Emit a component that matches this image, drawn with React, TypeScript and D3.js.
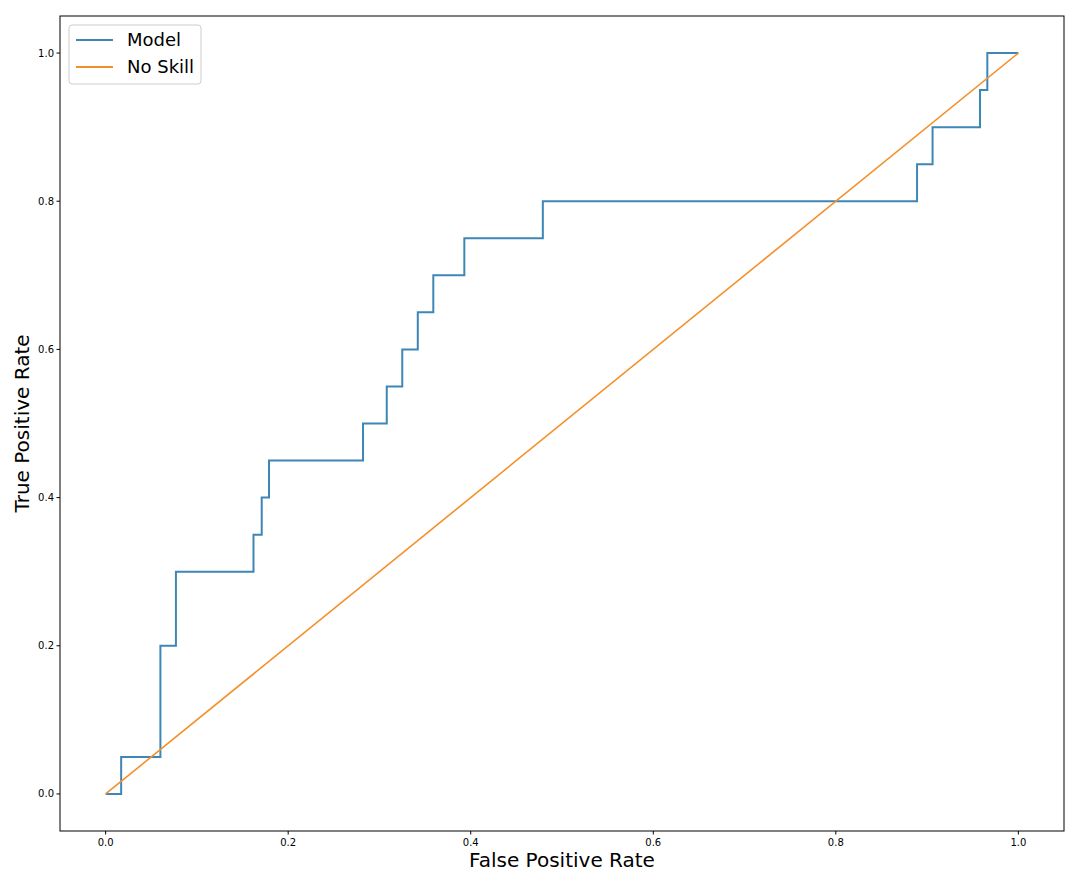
import React from "react";
import * as d3 from "d3";

const modelFpr = [0, 0.017, 0.017, 0.06, 0.06, 0.077, 0.077, 0.162, 0.162, 0.171, 0.171, 0.179, 0.179, 0.282, 0.282, 0.308, 0.308, 0.325, 0.325, 0.342, 0.342, 0.359, 0.359, 0.393, 0.393, 0.479, 0.479, 0.889, 0.889, 0.906, 0.906, 0.958, 0.958, 0.966, 0.966, 1.0];
const modelTpr = [0, 0, 0.05, 0.05, 0.2, 0.2, 0.3, 0.3, 0.35, 0.35, 0.4, 0.4, 0.45, 0.45, 0.5, 0.5, 0.55, 0.55, 0.6, 0.6, 0.65, 0.65, 0.7, 0.7, 0.75, 0.75, 0.8, 0.8, 0.85, 0.85, 0.9, 0.9, 0.95, 0.95, 1.0, 1.0];
const noSkillFpr = [0, 1];
const noSkillTpr = [0, 1];
const xTicks = [0, 0.2, 0.4, 0.6, 0.8, 1.0];
const yTicks = [0, 0.2, 0.4, 0.6, 0.8, 1.0];
const seriesNames = ["Model", "No Skill"];
const seriesColors = ["#3d86b6", "#f58f2a"];

const W = 1073, H = 876;
const L = 60, R = 1064, T = 16, B = 831;

export default function App() {
  const x = d3.scaleLinear().domain([-0.05, 1.05]).range([L, R]);
  const y = d3.scaleLinear().domain([-0.05, 1.05]).range([B, T]);
  const line = d3.line<[number, number]>().x(d => x(d[0])).y(d => y(d[1]));
  const model = modelFpr.map((f, i) => [f, modelTpr[i]] as [number, number]);
  const noSkill = noSkillFpr.map((f, i) => [f, noSkillTpr[i]] as [number, number]);
  const font = "DejaVu Sans, sans-serif";
  return (
    <svg width={W} height={H} style={{ position: "absolute", left: 0, top: 0, background: "#fff" }} fontFamily={font}>
      <rect x={0} y={0} width={W} height={H} fill="#fff" />
      <path d={line(model) || ""} fill="none" stroke={seriesColors[0]} strokeWidth={2} />
      <path d={line(noSkill) || ""} fill="none" stroke={seriesColors[1]} strokeWidth={1.6} />
      <rect x={L} y={T} width={R - L} height={B - T} fill="none" stroke="#000" strokeWidth={1} />
      {xTicks.map(t => (
        <g key={"x" + t}>
          <line x1={x(t)} x2={x(t)} y1={B} y2={B + 3.5} stroke="#000" />
          <text x={x(t)} y={B + 15} fontSize={10} textAnchor="middle">{t.toFixed(1)}</text>
        </g>
      ))}
      {yTicks.map(t => (
        <g key={"y" + t}>
          <line x1={L - 3.5} x2={L} y1={y(t)} y2={y(t)} stroke="#000" />
          <text x={L - 6} y={y(t)} dy="0.35em" fontSize={10} textAnchor="end">{t.toFixed(1)}</text>
        </g>
      ))}
      <text x={(L + R) / 2} y={867} fontSize={20} textAnchor="middle">False Positive Rate</text>
      <text transform={`translate(29, ${(T + B) / 2}) rotate(-90)`} fontSize={20} textAnchor="middle">True Positive Rate</text>
      <rect x={69} y={25} width={132} height={59} rx={3} fill="#fff" fillOpacity={0.8} stroke="#ccc" />
      {seriesNames.map((n, i) => (
        <g key={n}>
          <line x1={76} x2={113} y1={40 + i * 27} y2={40 + i * 27} stroke={seriesColors[i]} strokeWidth={2} />
          <text x={127} y={40 + i * 27} dy="0.35em" fontSize={18}>{n}</text>
        </g>
      ))}
    </svg>
  );
}
